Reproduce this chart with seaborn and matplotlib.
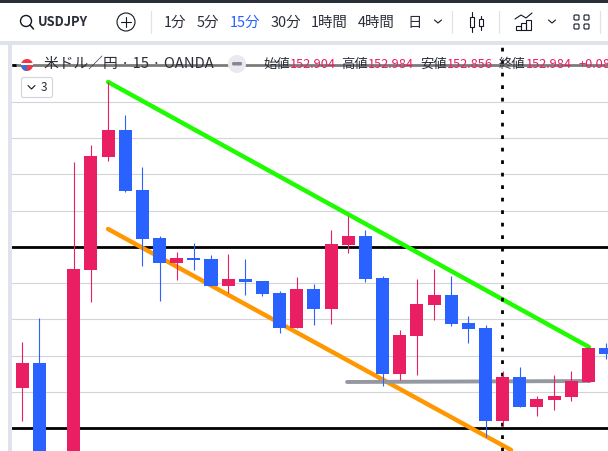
import matplotlib
matplotlib.use("Agg")
import matplotlib.pyplot as plt
from matplotlib.patches import Rectangle, Circle, FancyBboxPatch, Wedge
import seaborn as sns
import pandas as pd

sns.set_style("white")
plt.rcParams['font.family'] = ['Noto Sans CJK JP', 'DejaVu Sans']

#candles, USDJPY 15min, prices
bars = [0, 1, 3, 4, 5, 6, 7, 8, 9, 10, 11, 12, 13, 14, 15, 16, 17,
        18, 19, 20, 21, 22, 23, 24, 25, 26, 27, 28, 29, 30, 31, 32, 33, 34]
direction = ['u', 'd', 'u', 'u', 'u', 'd', 'd', 'd', 'u', 'd', 'd', 'u', 'd', 'd', 'd', 'u', 'd',
             'u', 'u', 'd', 'd', 'u', 'u', 'u', 'd', 'd', 'd', 'u', 'd', 'u', 'u', 'u', 'u', 'd']
body_top = [152.9425, 152.9425, 153.1775, 153.46, 153.525, 153.525, 153.375, 153.255, 153.205,
            153.205, 153.2025, 153.1525, 153.1525, 153.1475, 153.1175, 153.1275, 153.1275,
            153.24, 153.26, 153.26, 153.155, 153.0125, 153.09, 153.1125, 153.1125, 153.0425,
            153.03, 152.9075, 152.9075, 152.8525, 152.86, 152.8975, 152.98, 152.98]
body_bottom = [152.88, 152.65, 152.65, 153.175, 153.4575, 153.3725, 153.2525, 153.1925, 153.1925,
               153.20, 153.135, 153.135, 153.145, 153.115, 153.03, 153.03, 153.0775,
               153.0775, 153.2375, 153.1525, 152.915, 152.915, 153.01, 153.0875, 153.04, 153.0275,
               152.7975, 152.7975, 152.8325, 152.8325, 152.85, 152.8575, 152.895, 152.965]
highs = [152.995, 153.055, 153.445, 153.4875, 153.645, 153.5625, 153.4325, 153.26, 153.22,
         153.2425, 153.2125, 153.215, 153.2025, 153.1475, 153.1225, 153.1575, 153.14,
         153.275, 153.31, 153.275, 153.16, 153.025, 153.1525, 153.1775, 153.16, 153.06,
         153.0375, 152.9225, 152.9325, 152.86, 152.9125, 152.9225, 152.9825, 152.9925]
lows = [152.7975, 152.65, 152.65, 153.095, 153.4475, 153.37, 153.185, 153.0975, 153.15,
        153.175, 153.135, 153.1175, 153.1125, 153.11, 153.0175, 153.03, 153.0375,
        153.04, 153.2175, 153.145, 152.885, 152.90, 152.9125, 153.05, 153.035, 152.9925,
        152.7575, 152.785, 152.8325, 152.81, 152.825, 152.8475, 152.895, 152.9525]

grid_prices = [153.595, 153.505, 153.415, 153.3225, 153.1425, 153.0525, 152.96, 152.87]
black_prices = [153.23375, 152.78]
top_price = 153.6875
green_x, green_y = [5, 33.03], [153.645, 152.9825]
orange_x, orange_y = [5, 28.49], [153.2775, 152.725]
gray_x, gray_y = [18.93, 33.09], [152.895, 152.8975]
cursor_bar = 27.96

symbol = 'USDJPY'
intervals = ['1分', '5分', '15分', '30分', '1時間', '4時間', '日']
interval_x = [164, 197, 230, 271, 311, 358, 407]
title = '米ドル／円 · 15 · OANDA'
ohlc_names = ['始値', '高値', '安値', '終値']
ohlc_values = ['152.904', '152.984', '152.856', '152.984']
ohlc_x = [263, 341, 420, 499]
change = '+0.08'

PINK = '#e91e63'
BLUE = '#2962ff'
DARK = '#131722'

fig = plt.figure(figsize=(6.08, 4.51), dpi=100, facecolor='white')

# chart area, 12..608 px across and 45..451 px down
ax = fig.add_axes([12 / 608, 0, 596 / 608, 406 / 451])
df = pd.DataFrame({'bar': bars, 'dir': direction, 'top': body_top, 'bottom': body_bottom,
                   'high': highs, 'low': lows})

for p in grid_prices:
    ax.axhline(p, color='#d1d4dc', lw=0.8, zorder=1)
for p in black_prices:
    ax.axhline(p, color='black', lw=2, zorder=1.5)
ax.axhline(top_price, color='#7b7b7b', lw=2, zorder=1.5)

sns.lineplot(x=orange_x, y=orange_y, color='#ff9800', lw=3.2, ax=ax, zorder=2, sort=False)
sns.lineplot(x=gray_x, y=gray_y, color='#9598a1', lw=2.8, ax=ax, zorder=2, sort=False)
sns.lineplot(x=green_x, y=green_y, color='#1ffb00', lw=3.2, ax=ax, zorder=2, sort=False)
ax.axvline(cursor_bar, color='black', lw=2, ls=(0, (1.35, 3.15)), zorder=2.5)

for d, col in [('u', PINK), ('d', BLUE)]:
    sub = df[df['dir'] == d]
    ax.vlines(sub['bar'], sub['low'], sub['high'], color=col, lw=0.8, zorder=3)
    sns.barplot(x=sub['bar'].values, y=(sub['top'] - sub['bottom']).values, bottom=sub['bottom'].values,
                native_scale=True, color=col, saturation=1, width=0.76, errorbar=None,
                linewidth=0, ax=ax, zorder=4)

ax.set_xlim((12 - 22.3) / 17.156, (608 - 22.3) / 17.156)
ax.set_ylim(153.85 - 451 / 400, 153.85 - 45 / 400)
ax.axis('off')

# toolbar and labels, in pixels
ui = fig.add_axes([0, 0, 1, 1], facecolor='none')
ui.set_xlim(0, 608)
ui.set_ylim(451, 0)
ui.axis('off')

ui.add_patch(Rectangle((0, 0), 608, 2.5, color='#2a2e39', lw=0))
ui.add_patch(Rectangle((0, 41), 608, 4, color='#e0e3eb', lw=0))
ui.add_patch(Rectangle((8, 45), 4, 406, color='#e0e3eb', lw=0))
ui.plot([12, 16], [65, 65], color='black', lw=2, solid_capstyle='butt')

# search
ui.add_patch(Circle((26, 21), 5.5, fill=False, ec=DARK, lw=1))
ui.plot([30, 33.5], [25, 29], color=DARK, lw=1.1)
ui.text(38, 21.5, symbol, fontsize=9.3, fontweight='bold', color='#2a2e39', va='center')
# add symbol
ui.add_patch(Circle((126, 22), 9, fill=False, ec=DARK, lw=0.8))
ui.plot([121, 131], [22, 22], color=DARK, lw=0.8)
ui.plot([126, 126], [17, 27], color=DARK, lw=0.8)

for sx in [151, 452, 499, 600]:
    ui.plot([sx, sx], [11, 33], color='#e0e3eb', lw=0.9)

for t, tx in zip(intervals, interval_x):
    ui.text(tx, 22.5, t, fontsize=10.4, color=BLUE if t == '15分' else '#2a2e39', ha='left', va='center')

# chevrons
for cx in [438, 552]:
    ui.plot([cx - 3.5, cx, cx + 3.5], [20, 23, 20], color=DARK, lw=0.8)

# candle icon
ui.plot([472, 472], [12, 32], color=DARK, lw=0.8)
ui.add_patch(Rectangle((470, 17), 4, 10, fc='white', ec=DARK, lw=0.8, zorder=3))
ui.plot([481, 481], [16, 30], color=DARK, lw=0.8)
ui.add_patch(Rectangle((479, 19), 4, 7, fc='white', ec=DARK, lw=0.8, zorder=3))

# indicators icon
ui.plot([515, 521, 526, 532], [19, 15, 18, 13], color=DARK, lw=0.8)
for bx, bt in [(516, 26), (521, 23), (526, 20)]:
    ui.add_patch(Rectangle((bx, bt), 5, 30 - bt, fill=False, ec=DARK, lw=0.8))

# layout icon
for gx in [574, 584]:
    for gy in [15, 24]:
        ui.add_patch(FancyBboxPatch((gx, gy), 5, 5, boxstyle='round,pad=0,rounding_size=1',
                                    fill=False, ec=DARK, lw=0.8))

# legend line
ui.add_patch(Wedge((27, 65), 6, 0, 360, fc='#f23645', ec='none', zorder=3))
ui.add_patch(Rectangle((21, 62.5), 12, 2.5, fc='white', ec='none', zorder=3))
ui.add_patch(Wedge((27, 65), 6, 90, 180, fc='#3c6fd8', ec='none', zorder=3))
ui.text(44, 63.5, title, fontsize=10.6, color='#2a2e39', va='center', zorder=5)
ui.add_patch(Circle((237, 64), 9, fc='#e8eaef', ec='none', zorder=3))
ui.add_patch(FancyBboxPatch((232, 62), 10, 3.5, boxstyle='round,pad=0,rounding_size=1.5',
                            fc='#868993', ec='none', zorder=4))

for name, val, tx in zip(ohlc_names, ohlc_values, ohlc_x):
    ui.text(tx, 64, name, fontsize=9.6, color='#2a2e39', va='center', zorder=5)
    ui.text(tx + 27, 64, val, fontsize=9.2, color=PINK, va='center', zorder=5)
ui.text(578, 64, change, fontsize=9.2, color=PINK, va='center', zorder=5, clip_on=True)

# collapsed indicators button
ui.add_patch(FancyBboxPatch((21.5, 77.5), 31, 20, boxstyle='round,pad=0,rounding_size=2',
                            fc='white', ec='#d1d4dc', lw=0.8, zorder=5))
ui.plot([28, 31.5, 35], [85.5, 89, 85.5], color=DARK, lw=0.8, zorder=6)
ui.text(41, 87.5, '3', fontsize=8.6, color='#2a2e39', va='center', zorder=6)

fig.savefig('out.png', dpi=100)
